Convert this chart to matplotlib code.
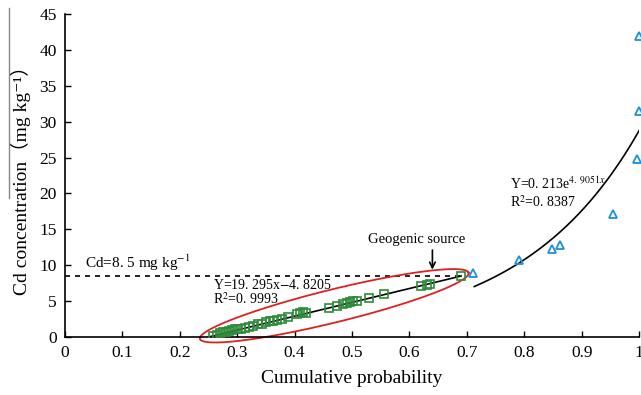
import numpy as np
import matplotlib
matplotlib.use("Agg")
import matplotlib.pyplot as plt
from matplotlib.lines import Line2D

FAM = ['Liberation Serif', 'Noto Sans CJK SC', 'DejaVu Serif']
plt.rcParams['font.family'] = FAM
plt.rcParams['mathtext.fontset'] = 'stix'

# Geogenic (linear) group
geo_x = [0.258, 0.264, 0.270, 0.276, 0.281, 0.286, 0.291, 0.296, 0.301, 0.306,
         0.313, 0.320, 0.328, 0.336, 0.343, 0.350, 0.357, 0.363, 0.370, 0.378,
         0.388, 0.404, 0.410, 0.415, 0.420, 0.460, 0.474, 0.484, 0.491, 0.497,
         0.502, 0.509, 0.530, 0.555, 0.620, 0.630, 0.636, 0.690]
geo_y = [0.15, 0.35, 0.55, 0.65, 0.75, 0.85, 0.95, 1.05, 1.15, 1.10,
         1.30, 1.45, 1.60, 1.75, 1.85, 2.05, 2.20, 2.25, 2.40, 2.50,
         2.75, 3.15, 3.40, 3.45, 3.35, 4.05, 4.35, 4.55, 4.70, 4.85,
         5.00, 5.05, 5.50, 6.00, 7.10, 7.30, 7.35, 8.50]

# Anthropogenic (exponential) group
ant_x = [0.711, 0.791, 0.848, 0.862, 0.955, 0.997, 1.0, 1.0]
ant_y = [8.9, 10.7, 12.3, 12.8, 17.1, 24.8, 31.5, 41.9]

lin_a, lin_b = 19.295, -4.8205
exp_a, exp_b = 0.213, 4.9051
threshold = 8.5

xticklabels = ['0', '0.1', '0.2', '0.3', '0.4', '0.5', '0.6', '0.7', '0.8', '0.9', '1']

fig = plt.figure(figsize=(6.41, 3.95), dpi=100)
ax = fig.add_axes([0.1014, 0.1468, 0.8956, 0.8178])
ax.set_xlim(0, 1)
ax.set_ylim(0, 45)
ax.spines['top'].set_visible(False)
ax.spines['right'].set_visible(False)
for s in ['left', 'bottom']:
    ax.spines[s].set_linewidth(1.2)
ax.set_xticks(np.arange(0, 1.01, 0.1))
ax.set_xticklabels(xticklabels)
ax.set_yticks(np.arange(0, 46, 5))
ax.tick_params(direction='in', length=4.5, width=1, labelsize=12.5, pad=6)

# threshold dashed line
ax.plot([0, 0.69], [threshold, threshold], color='black', lw=1.2, ls=(0, (3, 3)))
ax.text(0.035, threshold + 0.45, 'Cd=8. 5 mg kg$^{-1}$', fontsize=11, va='bottom', ha='left')

# linear fit
lx = np.linspace(0.25, 0.69, 50)
ax.plot(lx, lin_a * lx + lin_b, color='black', lw=1.2, zorder=3)
ax.plot(geo_x, geo_y, 's', ms=5.5, mfc='none', mec='#2e8b3a', mew=1.2, zorder=4)

# exponential fit
ex = np.linspace(0.713, 1.0, 80)
ax.plot(ex, exp_a * np.exp(exp_b * ex), color='black', lw=1.2, zorder=3)
ax.plot(ant_x, ant_y, '^', ms=6, mfc='none', mec='#1e8fdc', mew=1.3, zorder=4, clip_on=False)

# ellipse around geogenic group (drawn in display space so it looks like the original)
fig.canvas.draw()
T = ax.transData
p1 = T.transform((0.235, -0.25))
p2 = T.transform((0.703, 8.95))
c = (p1 + p2) / 2
L = np.hypot(*(p2 - p1)) / 2
ang = np.arctan2(p2[1] - p1[1], p2[0] - p1[0])
W = 16.5 * fig.dpi / 100
t = np.linspace(0, 2 * np.pi, 300)
ex_pts = np.c_[L * np.cos(t), W * np.sin(t)]
R = np.array([[np.cos(ang), -np.sin(ang)], [np.sin(ang), np.cos(ang)]])
pts = ex_pts @ R.T + c
dpts = T.inverted().transform(pts)
ax.plot(dpts[:, 0], dpts[:, 1], color='#e02020', lw=1.3, clip_on=False, zorder=2)

# equations
ax.text(0.258, 7.3, 'Y=19. 295x$-$4. 8205', fontsize=10, va='center')
ax.text(0.258, 5.3, 'R$^{2}$=0. 9993', fontsize=10, va='center')
ax.text(0.775, 21.3, 'Y=0. 213e$^{4.\\ 9051x}$', fontsize=10, va='center')
ax.text(0.775, 18.8, 'R$^{2}$=0. 8387', fontsize=10, va='center')

# geogenic source annotation
ax.text(0.612, 13.6, 'Geogenic source', fontsize=10.5, ha='center', va='center')
ax.annotate('', xy=(0.64, 9.0), xytext=(0.64, 12.5),
            arrowprops=dict(arrowstyle='->', color='black', lw=1.2))

ax.set_xlabel('Cumulative probability', fontsize=14, labelpad=6)
ax.set_ylabel('Cd concentration（mg kg⁻¹）', fontsize=14, labelpad=6, family=FAM)

# gray line artifact to the left of the y label
fig.add_artist(Line2D([0.014, 0.014], [0.5, 0.98], transform=fig.transFigure,
                      color='#888888', lw=1))

fig.savefig('out.png', dpi=100)
